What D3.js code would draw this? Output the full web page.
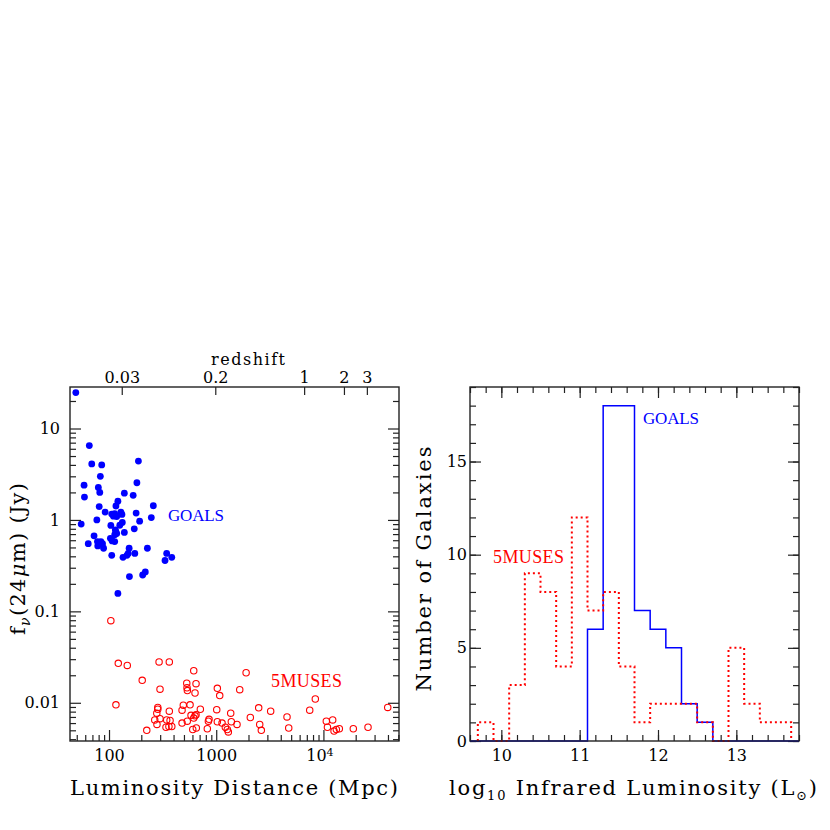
<!DOCTYPE html>
<html>
<head>
<meta charset="utf-8">
<script src="https://cdn.jsdelivr.net/npm/d3@7"></script>
<style>
  body { margin: 0; background: #fff; }
  .tick text { font-family: "DejaVu Serif", serif; font-size: 16px; fill: #000; }
  .tick line { stroke: #222; stroke-width: 1.2; }
</style>
</head>
<body>
<div id="chart"></div>
<script>
// GOALS: luminosity distance (Mpc) and f_nu(24um) (Jy)
var goalsDist = [49, 65.5, 69, 85.5, 83, 188, 58.5, 79.5, 82, 59, 182, 139, 168, 121, 116,
  81, 259, 92, 106, 110, 129, 132, 179, 248, 77, 55, 193, 133, 126, 104,
  114.5, 172, 139, 118, 72.5, 103, 107, 113, 64, 84, 78.5, 87, 89, 228, 154,
  151, 174, 106, 135, 345, 385, 333, 218, 206, 155, 121, 113, 118, 147, 78, 116, 113];
var goalsFlux = [24.7, 6.5, 4.1, 4.0, 3.0, 4.4, 2.4, 2.27, 2.0, 1.78, 2.55, 1.96, 1.86, 1.6, 1.42,
  1.4, 1.43, 1.22, 1.16, 1.1, 1.22, 1.15, 1.19, 1.06, 1.0, 0.9, 0.97, 0.94, 0.875, 0.87,
  0.78, 0.8, 0.73, 0.71, 0.67, 0.63, 0.59, 0.58, 0.55, 0.58, 0.52, 0.55, 0.49, 0.49, 0.49,
  0.43, 0.43, 0.41, 0.39, 0.43, 0.39, 0.36, 0.27, 0.25, 0.24, 0.157, 1.17, 1.09, 0.41, 0.58, 0.74, 0.69];

// 5MUSES
var musesDist = [104, 122, 148, 293, 365, 617, 204, 1900, 531, 648, 534, 538, 299, 1024, 634,
  1657, 1078, 8400, 116, 285, 285, 279, 365, 493, 570, 480, 711, 1011, 2490, 3220,
  7450, 39800, 267, 299, 280, 345, 371, 340, 362, 385, 480, 537, 582, 634, 617,
  648, 604, 652, 826, 857, 845, 1024, 1133, 1216, 1269, 1297, 1365, 1383, 1563, 2080,
  2545, 2634, 4575, 4746, 10640, 12200, 10900, 12560, 13200, 14070, 19000, 26060, 225];
var musesFlux = [0.079, 0.027, 0.0256, 0.028, 0.028, 0.0224, 0.0176, 0.0213, 0.0164, 0.0162, 0.0146, 0.0136, 0.0141, 0.0144, 0.0128,
  0.0139, 0.012, 0.011, 0.0095, 0.0089, 0.0085, 0.0077, 0.0081, 0.0094, 0.0095, 0.0083, 0.0085, 0.0084, 0.0088, 0.0081,
  0.0083, 0.0089, 0.0065, 0.0067, 0.0058, 0.0065, 0.0064, 0.0054, 0.0055, 0.0055, 0.006, 0.0063, 0.0073, 0.0072, 0.0068,
  0.0074, 0.0051, 0.0053, 0.0052, 0.0066, 0.0063, 0.0062, 0.006, 0.0054, 0.0051, 0.0048, 0.0077, 0.0062, 0.0058, 0.0069,
  0.0058, 0.005, 0.007, 0.0053, 0.0063, 0.0065, 0.0054, 0.0049, 0.0051, 0.0052, 0.0052, 0.0054, 0.005];

// top axis redshift labels
var zTicks = [0.03, 0.2, 1, 2, 3];

// histogram of log10 L_IR, bins 0.2 dex wide
var binEdges = [9.7, 9.9, 10.1, 10.3, 10.5, 10.7, 10.9, 11.1, 11.3, 11.5, 11.7,
  11.9, 12.1, 12.3, 12.5, 12.7, 12.9, 13.1, 13.3, 13.5, 13.7];
var goalsCounts = [0, 0, 0, 0, 0, 0, 0, 6, 18, 18, 7, 6, 5, 2, 1, 0, 0, 0, 0, 0];
var musesCounts = [1, 0, 3, 9, 8, 4, 12, 7, 8, 4, 1, 2, 2, 2, 1, 0, 5, 2, 1, 1];

var W = 830, H = 830;
var svg = d3.select("#chart").append("svg")
    .attr("width", W)
    .attr("height", H);

var top0 = 387, bot0 = 741;
var blue = "#0000ff", red = "#ff0000";

// luminosity distance for flat LCDM, H0=70, Om=0.3
function lumDist(z) {
  var n = 400, s = 0, dz = z / n;
  for (var i = 0; i < n; i++) {
    var zz = (i + 0.5) * dz;
    s += dz / Math.sqrt(0.3 * Math.pow(1 + zz, 3) + 0.7);
  }
  return (1 + z) * 299792.458 / 70 * s;
}

function logMinor(lo, hi) {
  var out = [];
  for (var e = Math.floor(Math.log10(lo)); e <= Math.ceil(Math.log10(hi)); e++) {
    for (var m = 2; m <= 9; m++) {
      var v = m * Math.pow(10, e);
      if (v >= lo && v <= hi) out.push(v);
    }
  }
  return out;
}

function clean(g) {
  g.select(".domain").remove();
}

// ---------- left panel ----------
var xL = d3.scaleLog().domain([Math.pow(10, 1.636), Math.pow(10, 4.705)]).range([70, 399]);
var yL = d3.scaleLog().domain([Math.pow(10, -2.418), Math.pow(10, 1.454)]).range([bot0, top0]);

var left = svg.append("g");

var xMin = logMinor(xL.domain()[0], xL.domain()[1]);
var yMin = logMinor(yL.domain()[0], yL.domain()[1]);

left.append("g").attr("transform", "translate(0," + bot0 + ")")
    .call(d3.axisBottom(xL).tickValues(xMin).tickSize(-6).tickFormat("")).call(clean);
var xb = left.append("g").attr("transform", "translate(0," + bot0 + ")")
    .call(d3.axisBottom(xL).tickValues([100, 1000, 10000]).tickSize(-11).tickPadding(9)
      .tickFormat(function(d) { return d === 10000 ? "10" : String(d); }))
    .call(clean);
xb.selectAll("text").filter(function(d) { return d === 10000; })
    .attr("dx", "-0.25em")
    .append("tspan").attr("dy", "-0.45em").attr("font-size", "11px").text("4");

var zDL = zTicks.map(lumDist);
left.append("g").attr("transform", "translate(0," + top0 + ")")
    .call(d3.axisTop(xL).tickValues(zDL).tickSize(-8).tickPadding(4)
      .tickFormat(function(d, i) { return String(zTicks[i]); }))
    .call(clean);

left.append("g").attr("transform", "translate(70,0)")
    .call(d3.axisLeft(yL).tickValues(yMin).tickSize(-6).tickFormat("")).call(clean);
left.append("g").attr("transform", "translate(70,0)")
    .call(d3.axisLeft(yL).tickValues([0.01, 0.1, 1, 10]).tickSize(-11).tickPadding(10)
      .tickFormat(function(d) { return String(d); }))
    .call(clean);
left.append("g").attr("transform", "translate(399,0)")
    .call(d3.axisRight(yL).tickValues(yMin).tickSize(-6).tickFormat("")).call(clean);
left.append("g").attr("transform", "translate(399,0)")
    .call(d3.axisRight(yL).tickValues([0.01, 0.1, 1, 10]).tickSize(-11).tickFormat("")).call(clean);

left.append("rect")
    .attr("x", 70).attr("y", top0).attr("width", 329).attr("height", bot0 - top0)
    .attr("fill", "none").attr("stroke", "#222").attr("stroke-width", 1.4);

left.append("g").selectAll("circle")
    .data(musesDist)
  .enter().append("circle")
    .attr("cx", function(d) { return xL(d); })
    .attr("cy", function(d, i) { return yL(musesFlux[i]); })
    .attr("r", 3.2)
    .attr("fill", "none")
    .attr("stroke", red)
    .attr("stroke-width", 1.1);

left.append("g").selectAll("circle")
    .data(goalsDist)
  .enter().append("circle")
    .attr("cx", function(d) { return xL(d); })
    .attr("cy", function(d, i) { return yL(goalsFlux[i]); })
    .attr("r", 3.4)
    .attr("fill", blue);

left.append("text").attr("x", 168).attr("y", 521)
    .style("font-family", "Liberation Serif, serif").style("font-size", "17px")
    .attr("fill", blue).attr("textLength", 56).text("GOALS");
left.append("text").attr("x", 271).attr("y", 687)
    .style("font-family", "Liberation Serif, serif").style("font-size", "18px")
    .attr("fill", red).attr("textLength", 71).text("5MUSES");

left.append("text").attr("x", 211).attr("y", 365)
    .style("font-family", "DejaVu Serif, serif").style("font-size", "16px")
    .attr("textLength", 74).attr("lengthAdjust", "spacing")
    .text("redshift");

left.append("text").attr("x", 234).attr("y", 795).attr("text-anchor", "middle")
    .style("font-family", "DejaVu Serif, serif").style("font-size", "21px")
    .attr("textLength", 328).attr("lengthAdjust", "spacing")
    .text("Luminosity Distance (Mpc)");

var yl = left.append("text")
    .attr("transform", "translate(25,635) rotate(-90)")
    .attr("textLength", 152).attr("lengthAdjust", "spacing")
    .style("font-family", "DejaVu Serif, serif").style("font-size", "21px");
yl.append("tspan").text("f");
yl.append("tspan").attr("dy", 5).attr("font-size", "14px").attr("font-style", "italic").text("\u03bd");
yl.append("tspan").attr("dy", -5).text("(24");
yl.append("tspan").attr("font-style", "italic").text("\u03bc");
yl.append("tspan").text("m) (Jy)");

// ---------- right panel ----------
var xR = d3.scaleLinear().domain([9.6, 13.8]).range([470, 799]);
var yR = d3.scaleLinear().domain([0, 19]).range([bot0, top0]);
var right = svg.append("g");

var xRmin = d3.range(9.6, 13.81, 0.2);
var yRmin = d3.range(0, 20, 1);

[[bot0, d3.axisBottom], [top0, d3.axisTop]].forEach(function(p) {
  right.append("g").attr("transform", "translate(0," + p[0] + ")")
      .call(p[1](xR).tickValues(xRmin).tickSize(-6).tickFormat("")).call(clean);
});
right.append("g").attr("transform", "translate(0," + bot0 + ")")
    .call(d3.axisBottom(xR).tickValues([10, 11, 12, 13]).tickSize(-11).tickPadding(9)
      .tickFormat(d3.format("d"))).call(clean);
right.append("g").attr("transform", "translate(0," + top0 + ")")
    .call(d3.axisTop(xR).tickValues([10, 11, 12, 13]).tickSize(-11).tickFormat("")).call(clean);

right.append("g").attr("transform", "translate(470,0)")
    .call(d3.axisLeft(yR).tickValues(yRmin).tickSize(-6).tickFormat("")).call(clean);
right.append("g").attr("transform", "translate(470,0)")
    .call(d3.axisLeft(yR).tickValues([0, 5, 10, 15]).tickSize(-11).tickPadding(3)
      .tickFormat(d3.format("d"))).call(clean);
right.append("g").attr("transform", "translate(799,0)")
    .call(d3.axisRight(yR).tickValues(yRmin).tickSize(-6).tickFormat("")).call(clean);
right.append("g").attr("transform", "translate(799,0)")
    .call(d3.axisRight(yR).tickValues([0, 5, 10, 15]).tickSize(-11).tickFormat("")).call(clean);

var step = d3.line()
    .x(function(d) { return xR(d[0]); })
    .y(function(d) { return yR(d[1]); })
    .curve(d3.curveStepAfter);

var musesPts = [[binEdges[0], 0]];
musesCounts.forEach(function(c, i) { musesPts.push([binEdges[i], c]); });
musesPts.push([binEdges[binEdges.length - 1], 0]);

var goalsPts = [[xR.domain()[0], 0]];
goalsCounts.forEach(function(c, i) { goalsPts.push([binEdges[i], c]); });
goalsPts.push([binEdges[binEdges.length - 1], 0]);
goalsPts.push([xR.domain()[1], 0]);

right.append("path").datum(goalsPts)
    .attr("d", step).attr("fill", "none").attr("stroke", blue).attr("stroke-width", 1.5);
right.append("path").datum(musesPts)
    .attr("d", step).attr("fill", "none").attr("stroke", red)
    .attr("stroke-width", 2).attr("stroke-dasharray", "2,3");

right.append("rect")
    .attr("x", 470).attr("y", top0).attr("width", 329).attr("height", bot0 - top0)
    .attr("fill", "none").attr("stroke", "#222").attr("stroke-width", 1.4);

right.append("text").attr("x", 643).attr("y", 424)
    .style("font-family", "Liberation Serif, serif").style("font-size", "17px")
    .attr("fill", blue).attr("textLength", 56).text("GOALS");
right.append("text").attr("x", 493).attr("y", 563)
    .style("font-family", "Liberation Serif, serif").style("font-size", "18px")
    .attr("fill", red).attr("textLength", 71).text("5MUSES");

var xl = right.append("text").attr("x", 449).attr("y", 795)
    .attr("textLength", 368).attr("lengthAdjust", "spacing")
    .style("font-family", "DejaVu Serif, serif").style("font-size", "21px");
xl.append("tspan").text("log");
xl.append("tspan").attr("dy", 5).attr("font-size", "13px").text("10");
xl.append("tspan").attr("dy", -5).text(" Infrared Luminosity (L");
xl.append("tspan").attr("dy", 5).attr("font-size", "13px").text("\u2299");
xl.append("tspan").attr("dy", -5).text(")");

right.append("text")
    .attr("transform", "translate(431,569) rotate(-90)")
    .attr("text-anchor", "middle")
    .style("font-family", "DejaVu Serif, serif").style("font-size", "21px")
    .attr("textLength", 245).attr("lengthAdjust", "spacing")
    .text("Number of Galaxies");
</script>
</body>
</html>
